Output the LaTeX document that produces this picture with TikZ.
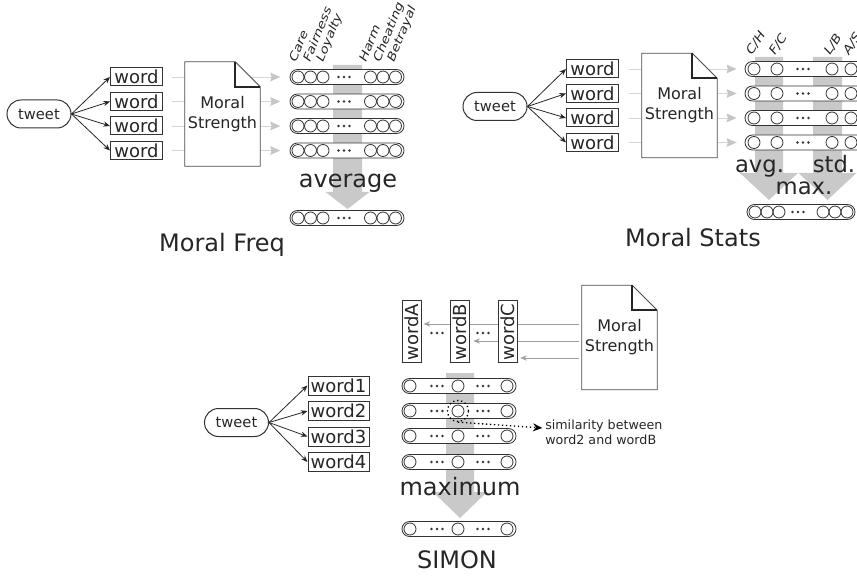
\documentclass[tikz,border=0pt]{standalone}
\usepackage{fontspec}
\setmainfont{DejaVu Sans}
\usetikzlibrary{arrows.meta}
\pgfdeclarelayer{lines}
\pgfdeclarelayer{docs}
\pgfsetlayers{lines,docs,main}
\newcommand\hd[2]{\fill[black!80] ({#1-5.5},{#2}) circle (1.3) ({#1},{#2}) circle (1.3) ({#1+5.5},{#2}) circle (1.3);}
\newcommand\vrow[6]{%
  \node[vecbox, minimum width=#4] (#1) at (#2,#3) {};
  \foreach \o [count=\k] in {#5} \node[vc] (#1c\k) at ({#2+(\o)},{#3}) {};
  \foreach \o in {#6} {\hd{#2+(\o)}{#3}}
}
\newcommand\mdoc[3]{%
  \node[dtext] (#1) at (#2,#3) {Moral\\Strength};
  \begin{pgfonlayer}{docs}
  \path[docline] (#1.south west) -- (#1.north west) -- ([xshift=-18.75pt]#1.north east)
     -- ([yshift=-18.75pt]#1.north east) -- (#1.south east) -- cycle;
  \draw[fold] ([xshift=-18.75pt]#1.north east) |- ([yshift=-18.75pt]#1.north east);
  \end{pgfonlayer}
}
\begin{document}
\begin{tikzpicture}[x=0.75pt,y=-0.75pt,
  ink/.style={draw=black!80, line width=0.75pt},
  tw/.style={ink, rounded corners=10.5pt, minimum width=48pt, minimum height=21pt, inner sep=0pt, font=\fontsize{11}{13}\selectfont, text=black!85},
  wd/.style={ink, fill=white, minimum width=39pt, minimum height=13.5pt, inner sep=0pt, font=\fontsize{13.5}{16}\selectfont, text=black!85},
  vecbox/.style={draw=black!80, line width=0.6pt, fill=white, rounded corners=5.6pt, minimum height=11.25pt, inner sep=0pt},
  vc/.style={circle, draw=black!80, line width=0.6pt, inner sep=0pt, minimum size=9pt},
  band/.style={fill=gray!42, draw=none},
  glineA/.style={draw=gray!33, line width=0.6pt, -{Stealth[length=7.5pt,width=6.5pt,inset=1pt,color=gray!45]}},
  glineB/.style={draw=gray!75, line width=0.6pt, -{Stealth[length=5pt,width=4pt]}},
  ta/.style={draw=black!85, line width=0.6pt, -{Stealth[length=5pt,width=4pt]}},
  docline/.style={draw=black!70, line width=0.6pt, fill=white},
  fold/.style={draw=black!85, line width=1.3pt},
  dtext/.style={font=\fontsize{12}{15}\selectfont, align=center, text=black!85, minimum width=56.25pt, minimum height=78pt, inner sep=0pt},
  big/.style={font=\fontsize{18}{20}\selectfont, text=black!85, anchor=base, inner sep=0pt},
  mid/.style={font=\fontsize{17}{19}\selectfont, text=black!85, anchor=base, inner sep=0pt},
  lab/.style={font=\fontsize{10.5}{12}\selectfont\itshape, anchor=base west, inner sep=0pt, text=black!85}
]
\useasboundingbox (0,0) rectangle (857,577);

% ================= Moral Freq =================
\fill[band] (333,65) -- (362,65) -- (362,192) -- (369.5,192) -- (347.5,209) -- (325.5,192) -- (333,192) -- cycle;
\node[tw] (t1) at (39,114) {tweet};
\foreach \y [count=\i] in {77,101.5,126,150.5} \node[wd] (w1\i) at (136.5,\y) {word};
\foreach \y [count=\i] in {77,101.5,126,150.5} {\vrow{v1\i}{347}{\y}{85.5pt}{-49,-36.5,-24,23.5,36,48.5}{-3}}
\vrow{v1o}{347}{218}{85.5pt}{-49,-36.5,-24,23.5,36,48.5}{-3}
\begin{pgfonlayer}{lines}
\foreach \i in {1,...,4} \draw[glineA] ([xshift=6.75pt]w1\i.east) -- ([xshift=-7pt]v1\i.west);
\end{pgfonlayer}
\foreach \i in {1,...,4} \draw[ta] (t1.east) -- (w1\i.west);
\mdoc{d1}{222.5}{114}
\node[lab, rotate=68, yscale=0.82] (l11) at (296,63) {Care};
\node[lab, rotate=68, yscale=0.82] (l12) at (310,63) {Fairness};
\node[lab, rotate=68, yscale=0.82] (l13) at (323,63) {Loyalty};
\node[lab, rotate=68, yscale=0.82] (l14) at (366,63) {Harm};
\node[lab, rotate=68, yscale=0.82] (l15) at (380,63) {Cheating};
\node[lab, rotate=68, yscale=0.82] (l16) at (394,63) {Betrayal};
\node[big] (avg1) at (348,188) {average};
\node[big] (title1) at (222,252) {Moral Freq};

% ================= Moral Stats =================
\fill[band] (755,57) -- (783,57) -- (783,173) -- (798,173) -- (769,200) -- (740,173) -- (755,173) -- cycle;
\fill[band] (813,57) -- (842,57) -- (842,173) -- (856.5,173) -- (827.5,200) -- (798.5,173) -- (813,173) -- cycle;
\node[tw] (t2) at (495,106.5) {tweet};
\foreach \y [count=\i] in {69,93.5,118,142.5} \node[wd] (w2\i) at (592.5,\y) {word};
\foreach \y [count=\i] in {69,93.5,118,142.5} {\vrow{v2\i}{807.5}{\y}{93.75pt}{-53.5,-30.5,24.5,43.5}{-4.5}}
\vrow{v2o}{801}{212}{81pt}{-46,-34,-22,22,34,46}{-3}
\begin{pgfonlayer}{lines}
\foreach \i in {1,...,4} \draw[glineA] ([xshift=7.5pt]w2\i.east) -- ([xshift=-6pt]v2\i.west);
\end{pgfonlayer}
\foreach \i in {1,...,4} \draw[ta] (t2.east) -- (w2\i.west);
\mdoc{d2}{679.5}{105.5}
\node[lab, rotate=57, yscale=0.85] (l21) at (752,56) {C/H};
\node[lab, rotate=57, yscale=0.85] (l22) at (775,56) {F/C};
\node[lab, rotate=57, yscale=0.85] (l23) at (830,56) {L/B};
\node[lab, rotate=57, yscale=0.85] (l24) at (849,56) {A/S};
\node[mid] (avg2) at (759.5,173) {avg.};
\node[mid] (std2) at (834,173) {std.};
\node[mid] (max2) at (804,195) {max.};
\node[big] (title2) at (693,247) {Moral Stats};

% ================= SIMON =================
\fill[band] (446,373) -- (474,373) -- (474,492) -- (487,492) -- (460,518) -- (433,492) -- (446,492) -- cycle;
\node[tw] (t3) at (236.5,422.5) {tweet};
\foreach \y [count=\i] in {385.5,411,436.5,462} \node[wd, minimum width=45.75pt, minimum height=14.25pt] (w3\i) at (338.5,\y) {word\i};
\foreach \y [count=\i] in {386,411,436,462} {\vrow{v3\i}{459}{\y}{85.5pt}{-49,-1,48}{-22,24}}
\vrow{v3o}{459}{529}{85.5pt}{-49,-1,48}{-22,24}
\foreach \i in {1,...,4} \draw[ta] (t3.east) -- (w3\i.west);
\node[wd, rotate=90, minimum width=46.5pt, minimum height=14.25pt] (wa) at (411.5,332) {wordA};
\node[wd, rotate=90, minimum width=46.5pt, minimum height=14.25pt] (wb) at (460,332) {wordB};
\node[wd, rotate=90, minimum width=46.5pt, minimum height=14.25pt] (wc) at (507.5,332) {wordC};
\hd{437}{333}
\hd{483}{333}
\mdoc{d3}{619.5}{337.5}
\coordinate (s1) at ([yshift=10.125pt,xshift=-2pt]d3.west);
\coordinate (s2) at ([yshift=-2.625pt,xshift=-2pt]d3.west);
\coordinate (s3) at ([yshift=-15.375pt,xshift=-2pt]d3.west);
\coordinate (e1) at (s1 -| wa.south);
\coordinate (e2) at (s2 -| wb.south);
\coordinate (e3) at (s3 -| wc.south);
\begin{pgfonlayer}{lines}
\draw[glineB] (s1) -- ([xshift=1.5pt]e1);
\draw[glineB] (s2) -- ([xshift=2.5pt]e2);
\draw[glineB] (s3) -- ([xshift=2pt]e3);
\end{pgfonlayer}
\node[circle, draw=black, dotted, line width=1pt, minimum size=15.75pt, inner sep=0pt] (sel) at (v32c2) {};
\node[anchor=west, align=left, font=\fontsize{9.5}{11.25}\selectfont, inner sep=0pt, text=black!85] (sim) at (545,432) {similarity between\\word2 and wordB};
\draw[dotted, line width=1pt, -{Stealth[length=7pt,width=6pt]}] (sel.south) -- ([xshift=-2pt,yshift=3pt]sim.west);
\node[big] (avg3) at (460,495) {maximum};
\node[big] (title3) at (457,568) {SIMON};
\end{tikzpicture}
\end{document}
